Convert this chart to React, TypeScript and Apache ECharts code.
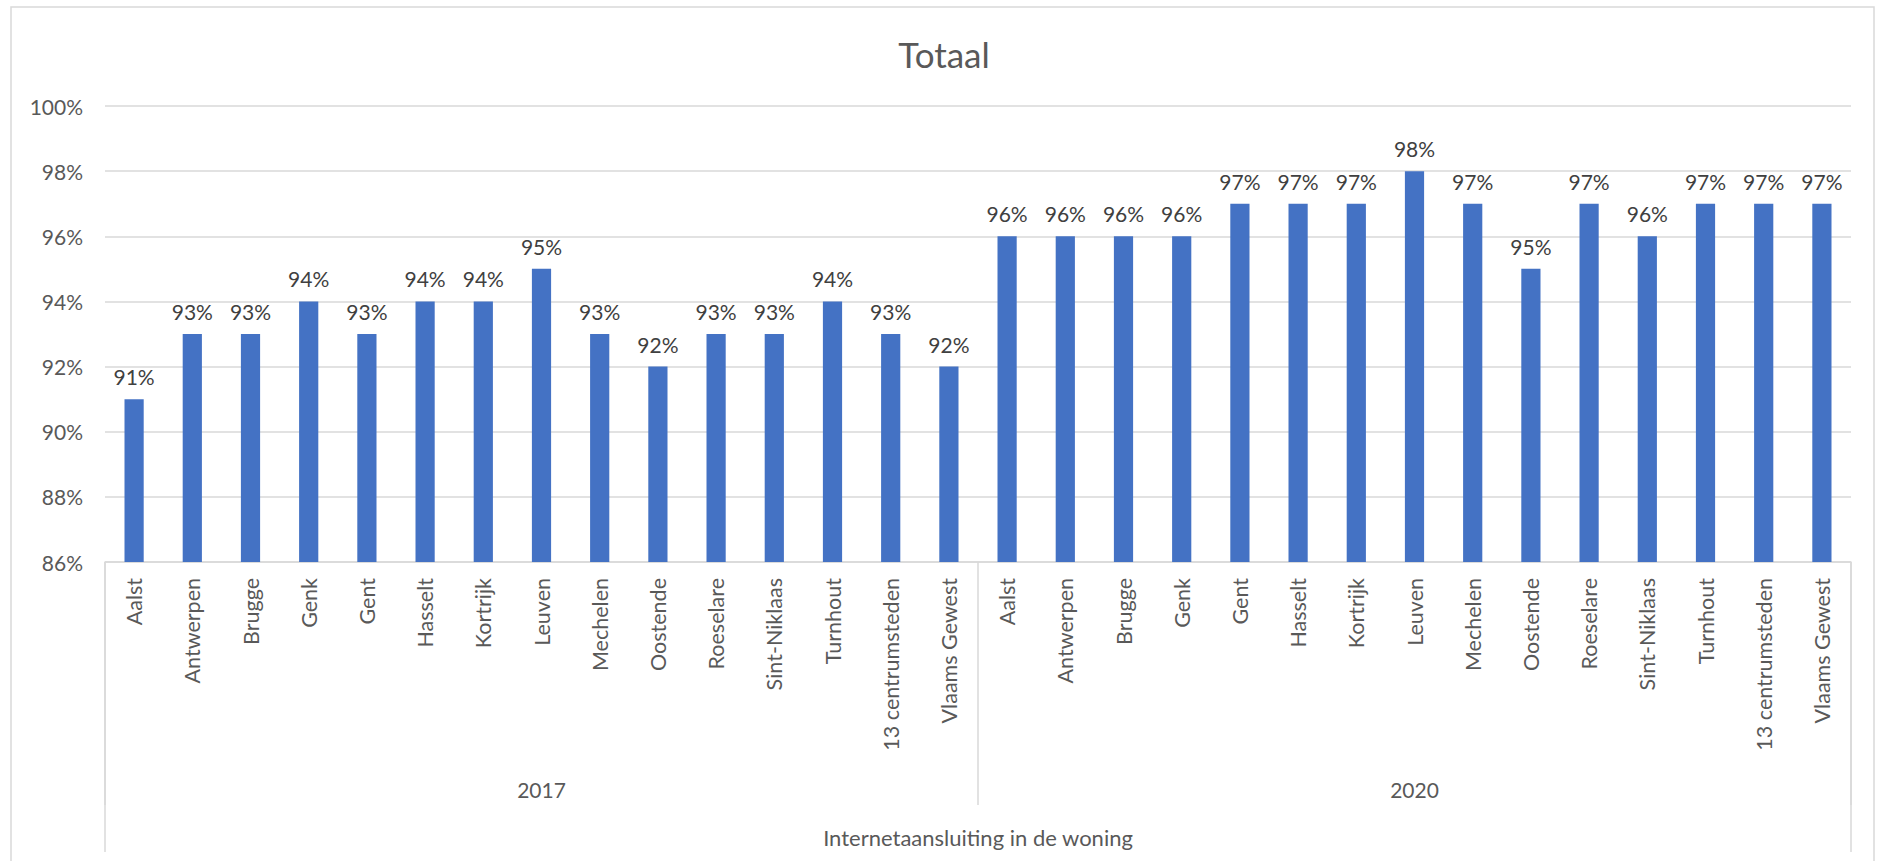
import React, { useEffect, useRef } from "react";
import * as echarts from "echarts";

const cities = [
  "Aalst", "Antwerpen", "Brugge", "Genk", "Gent", "Hasselt", "Kortrijk", "Leuven",
  "Mechelen", "Oostende", "Roeselare", "Sint-Niklaas", "Turnhout", "13 centrumsteden", "Vlaams Gewest",
];
const years = ["2017", "2020"];
const values2017 = [91, 93, 93, 94, 93, 94, 94, 95, 93, 92, 93, 93, 94, 93, 92];
const values2020 = [96, 96, 96, 96, 97, 97, 97, 98, 97, 95, 97, 96, 97, 97, 97];
const outerLabel = ["Internetaansluiting in de woning"];
const yMin = 86;
const yMax = 100;
const yStep = 2;

const FONT = "Lato, 'Open Sans', sans-serif";
const TEXT = "#595959";
const LINE = "#d9d9d9";

export default function App() {
  const ref = useRef<HTMLDivElement>(null);
  useEffect(() => {
    if (!ref.current) return;
    const chart = echarts.init(ref.current, undefined, { renderer: "svg" });
    const categories = [...cities, ...cities];
    const values = [...values2017, ...values2020];
    chart.setOption({
      animation: false,
      backgroundColor: "#ffffff",
      textStyle: { fontFamily: FONT },
      title: {
        text: "Totaal",
        left: 939,
        top: 31,
        textAlign: "center",
        textStyle: { fontFamily: FONT, fontSize: 35, fontWeight: "normal", color: TEXT },
      },
      graphic: [
        {
          type: "rect",
          shape: { x: 11, y: 7, width: 1863, height: 900 },
          style: { fill: "none", stroke: LINE, lineWidth: 1.5 },
          silent: true,
        },
      ],
      grid: { left: 105, right: 27, top: 106, bottom: 299, containLabel: false },
      xAxis: [
        {
          type: "category",
          data: categories,
          position: "bottom",
          axisLine: { show: true, lineStyle: { color: LINE, width: 1.5 } },
          axisTick: { show: false },
          axisLabel: {
            interval: 0,
            rotate: 90,
            margin: 16,
            fontSize: 21.5,
            color: TEXT,
            fontFamily: FONT,
          },
        },
        {
          type: "category",
          data: years,
          position: "bottom",
          axisLine: { show: false },
          axisTick: { show: true, length: 243, alignWithLabel: false, lineStyle: { color: LINE, width: 1.5 } },
          axisLabel: { interval: 0, margin: 217, fontSize: 21, color: TEXT, fontFamily: FONT },
        },
        {
          type: "category",
          data: outerLabel,
          position: "bottom",
          axisLine: { show: false },
          axisTick: { show: true, length: 290, lineStyle: { color: LINE, width: 1.5 } },
          axisLabel: { interval: 0, margin: 264, fontSize: 22, color: TEXT, fontFamily: FONT },
        },
      ],
      yAxis: {
        type: "value",
        min: yMin,
        max: yMax,
        interval: yStep,
        axisLine: { show: false },
        axisTick: { show: false },
        splitLine: { lineStyle: { color: LINE, width: 1.5 } },
        axisLabel: {
          formatter: "{value}%",
          margin: 22,
          fontSize: 21,
          color: TEXT,
          fontFamily: FONT,
        },
      },
      series: [
        {
          type: "bar",
          xAxisIndex: 0,
          data: values,
          barWidth: "33%",
          itemStyle: { color: "#4472C4" },
          label: {
            show: true,
            position: "top",
            distance: 12,
            formatter: "{c}%",
            fontSize: 21,
            color: "#404040",
            fontFamily: FONT,
          },
        },
      ],
    });
    return () => chart.dispose();
  }, []);
  return (
    <div
      ref={ref}
      style={{ position: "fixed", left: 0, top: 0, width: 1878, height: 861, background: "#fff" }}
    />
  );
}
